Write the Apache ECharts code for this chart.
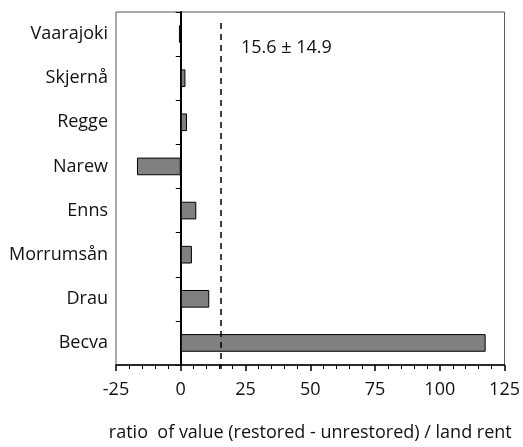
<!DOCTYPE html>
<html><head><meta charset="utf-8">
<script src="https://cdn.jsdelivr.net/npm/echarts@6/dist/echarts.min.js"></script>
<style>html,body{margin:0;padding:0;background:#fff}#c{width:523px;height:447px}</style>
</head><body><div id="c"></div>
<script>
const categories = ['Vaarajoki','Skjernå','Regge','Narew','Enns','Morrumsån','Drau','Becva'];
const values = [-0.7, 1.8, 2.4, -16.9, 6.0, 4.3, 11.0, 117.7];
const meanValue = 15.6;
const meanLabel = '15.6 ± 14.9';
const xTicks = {min: -25, max: 125, interval: 25};
const xName = 'ratio  of value (restored - unrestored) / land rent';
const FONT = 'Open Sans';

const chart = echarts.init(document.getElementById('c'), null, {renderer: 'canvas'});
chart.setOption({
  animation: false,
  textStyle: {fontFamily: FONT},
  grid: {left: 116, top: 12, right: 14, bottom: 78, show: true, borderColor: '#555', borderWidth: 1},
  xAxis: {
    type: 'value', min: xTicks.min, max: xTicks.max, interval: xTicks.interval,
    name: xName, nameLocation: 'middle', nameGap: 59,
    nameTextStyle: {fontFamily: FONT, fontSize: 18, color: '#111'},
    axisLine: {show: true, onZero: false, lineStyle: {color: '#000', width: 1.5}},
    axisTick: {show: true, length: 6, lineStyle: {color: '#000', width: 1.5}},
    minorTick: {show: true, splitNumber: 5, length: 4, lineStyle: {color: '#000', width: 1}},
    splitLine: {show: false},
    axisLabel: {fontFamily: FONT, fontSize: 18, color: '#111', margin: 16}
  },
  yAxis: [
    {
      type: 'category', data: categories, inverse: true,
      axisLine: {show: true, onZero: true, lineStyle: {color: '#000', width: 2}},
      axisTick: {show: true, length: 5, lineStyle: {color: '#000', width: 1}},
      axisLabel: {show: false}
    },
    {
      type: 'category', data: categories, inverse: true, position: 'left',
      axisLine: {show: false, onZero: false},
      axisTick: {show: false},
      axisLabel: {fontFamily: FONT, fontSize: 18, color: '#111', margin: 8}
    }
  ],
  series: [{
    type: 'bar', yAxisIndex: 0, data: values, barCategoryGap: '60%',
    itemStyle: {color: '#808080', borderColor: '#000', borderWidth: 1},
    markLine: {
      silent: true, symbol: 'none', label: {show: false},
      lineStyle: {color: '#000', type: [6, 5], width: 1.5},
      data: [[{xAxis: meanValue, y: 23}, {xAxis: meanValue, y: 369}]]
    }
  }],
  graphic: [{
    type: 'text', left: 241, top: 39,
    style: {text: meanLabel, font: '18px "Open Sans"', fill: '#111'}
  }]
});
</script></body></html>
